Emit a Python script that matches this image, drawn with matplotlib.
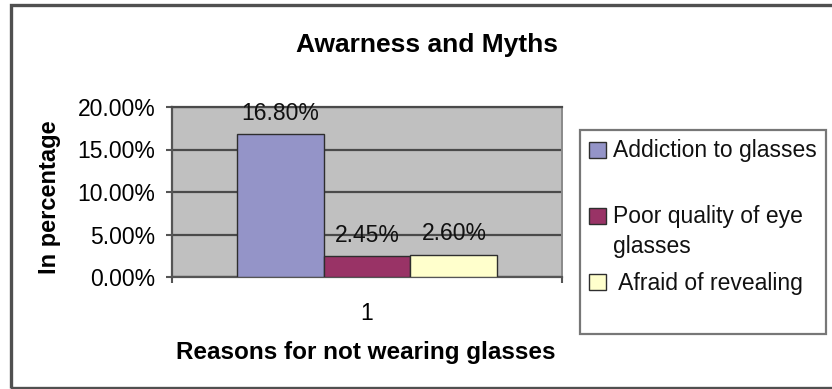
import matplotlib
matplotlib.use("Agg")
import matplotlib.pyplot as plt
from matplotlib.patches import Rectangle
from matplotlib.ticker import PercentFormatter, FixedLocator

plt.rcParams['font.family'] = ['Liberation Sans', 'DejaVu Sans']

# --- data -------------------------------------------------------------
title = "Awarness and Myths"
x_label = "Reasons for not wearing glasses"
y_label = "In percentage"
category = "1"
series_names = ["Addiction to glasses", "Poor quality of eye\nglasses", " Afraid of revealing"]
series_values = [16.80, 2.45, 2.60]          # percent
series_colors = ["#9494C8", "#993366", "#FFFFCC"]
y_ticks = [0, 5, 10, 15, 20]

DPI = 100
fig = plt.figure(figsize=(8.32, 3.89), dpi=DPI, facecolor="white")

# outer chart frame (right edge runs off the canvas)
fig.patches.append(Rectangle((11 / 832, 1 / 389), 2.0, 383 / 389, transform=fig.transFigure,
                             fill=False, edgecolor="#505050", linewidth=2.4, zorder=0))

ax = fig.add_axes([172 / 832, 1 - 277 / 389, 390 / 832, 170 / 389])
ax.set_facecolor("#C0C0C0")

bar_w = 0.223
center = 1.0
containers = []
for i, (name, val, col) in enumerate(zip(series_names, series_values, series_colors)):
    xpos = center + (i - 1) * bar_w
    bc = ax.bar([xpos], [val], width=bar_w, color=col, edgecolor="#2e2e2e",
                linewidth=1.0, zorder=3, label=name)
    containers.append(bc)
    ax.annotate(f"{val:.2f}%", (xpos, val), xytext=(0, 10.5), textcoords="offset points",
                ha="center", va="baseline", fontsize=16.5, color="#111111", zorder=4)

ax.set_xlim(0.5, 1.5)
ax.set_ylim(0, 20)
ax.yaxis.set_major_locator(FixedLocator(y_ticks))
ax.yaxis.set_major_formatter(PercentFormatter(xmax=100, decimals=2))
ax.grid(axis="y", color="#4a4a4a", linewidth=1.6, zorder=1)
ax.set_axisbelow(True)

ax.set_xticks([center])
ax.set_xticklabels([category])
ax.set_xticks([0.5, 1.5], minor=True)
ax.tick_params(axis="x", which="major", length=0, pad=18, labelsize=16.5)
ax.tick_params(axis="x", which="minor", length=4, width=1.5, color="#555555")
ax.tick_params(axis="y", length=4.5, width=1.5, color="#555555", pad=7.5, labelsize=16.5)

for side in ("left", "bottom"):
    ax.spines[side].set_color("#555555")
    ax.spines[side].set_linewidth(1.6)
ax.spines["top"].set_color("#4a4a4a")
ax.spines["top"].set_linewidth(1.6)
ax.spines["right"].set_color("#8a8a8a")
ax.spines["right"].set_linewidth(1.4)

ax.set_xlabel(x_label, fontsize=17.5, fontweight="bold")
ax.xaxis.label.set_va("baseline")
ax.xaxis.set_label_coords((366 - 172) / 390, (277 - 359) / 170)
ax.set_ylabel(y_label, fontsize=17, fontweight="bold")
ax.yaxis.label.set_va("center")
ax.yaxis.set_label_coords((50 - 172) / 390, (277 - 197) / 170)

fig.text(427 / 832, 1 - 52 / 389, title, ha="center", va="baseline",
         fontsize=19, fontweight="bold")

# --- legend -------------------------------------------------------------
leg_fs = 16.5
line_step_px = 30.5     # distance between lines inside one entry
entry_step_px = 36.5    # baseline distance from one entry to the next

# measure single-line height and default line step for the legend font
probe1 = fig.text(0, 0, "lp", fontsize=leg_fs)
probe2 = fig.text(0, 0, "lp\nlp", fontsize=leg_fs, linespacing=1.2)
fig.canvas.draw()
h1 = probe1.get_window_extent().height
h2 = probe2.get_window_extent().height
probe1.remove()
probe2.remove()
step0 = h2 - h1
linespacing = 1.2 * line_step_px / step0
gap_px = entry_step_px - h1
fs_px = leg_fs * DPI / 72

labels = [n if "\n" in n else n + "\n" for n in series_names]
leg = ax.legend(containers, labels, loc="upper left",
                bbox_to_anchor=(580 / 832, 1 - 130 / 389), bbox_transform=fig.transFigure,
                borderaxespad=0, fontsize=leg_fs, frameon=True, fancybox=False,
                edgecolor="#777777", framealpha=1, borderpad=0.4,
                handlelength=0.74, handleheight=0.68, handletextpad=0.3,
                labelspacing=gap_px / fs_px)
leg.get_frame().set_linewidth(1.6)
for t in leg.get_texts():
    t.set_linespacing(linespacing)
    t.set_color("#111111")

# set each swatch beside the first line of its label
fig.canvas.draw()
for t, h in zip(leg.get_texts(), leg.legend_handles):
    tb = t.get_window_extent()
    hb = h.get_window_extent()
    target_top = tb.y1 - 0.12 * fs_px
    h.set_y(h.get_y() + (target_top - hb.y1) * 72 / DPI)

fig.savefig("out.png", dpi=DPI, facecolor="white")
